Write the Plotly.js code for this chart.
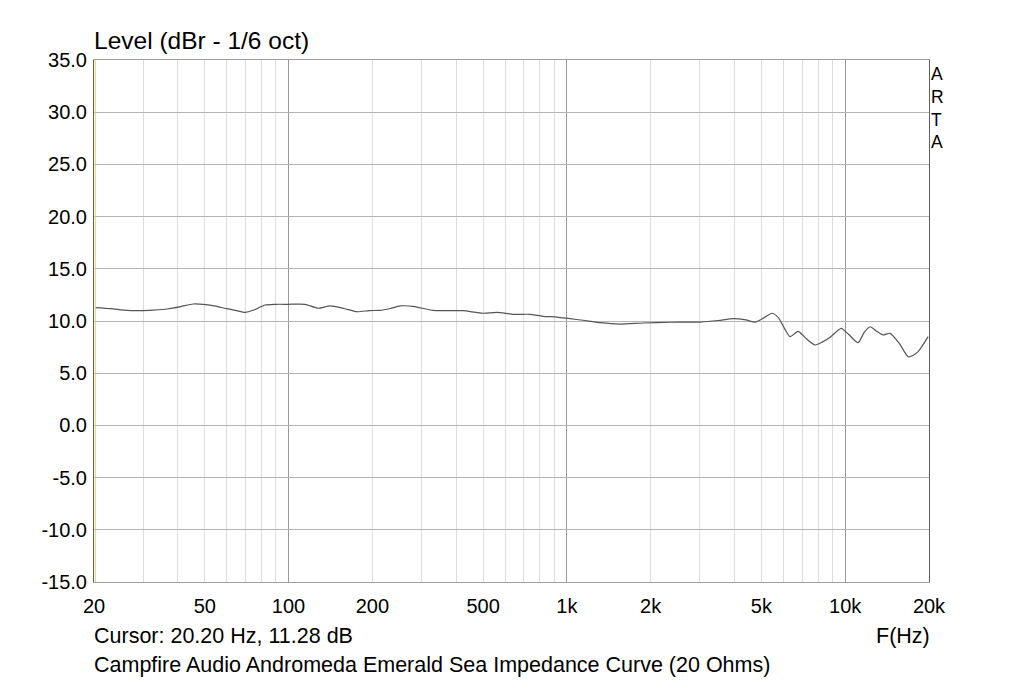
<!DOCTYPE html>
<html>
<head>
<meta charset="utf-8">
<script src="https://cdn.plot.ly/plotly-3.0.1.min.js"></script>
<style>
html,body{margin:0;padding:0;background:#fff;}
#chart{width:1023px;height:681px;}
</style>
</head>
<body>
<div id="chart"></div>
<script>
// Frequency (Hz) and level (dBr)
const freqHz = [20.2, 23, 26.3, 29.5, 32.6, 36.6, 41, 45.4, 49.3, 54, 60.1, 65, 69.8, 75, 82.3, 90, 99.6, 114.6, 127.6, 141, 158, 176, 195, 213, 232, 251.6, 280, 330, 380, 424, 500, 561, 641, 738, 821, 922, 1026, 1143, 1316, 1552, 1878, 2348, 3010, 3500, 3954, 4400, 4743, 5100, 5460, 5740, 6050, 6336, 6772, 7250, 7798, 8300, 8830, 9670, 10300, 11120, 11700, 12280, 13000, 13680, 14490, 15600, 16820, 17500, 18280, 19860];
const levelDb = [11.28, 11.18, 11.02, 11.0, 11.05, 11.15, 11.38, 11.63, 11.6, 11.45, 11.18, 11.0, 10.83, 11.05, 11.53, 11.6, 11.6, 11.6, 11.22, 11.44, 11.2, 10.89, 11.0, 11.02, 11.2, 11.44, 11.41, 11.02, 11.0, 10.99, 10.74, 10.83, 10.64, 10.64, 10.45, 10.38, 10.22, 10.07, 9.84, 9.71, 9.81, 9.88, 9.9, 10.05, 10.22, 10.1, 9.9, 10.3, 10.74, 10.35, 9.3, 8.5, 9.01, 8.3, 7.7, 8.0, 8.44, 9.3, 8.7, 7.92, 8.9, 9.45, 9.0, 8.66, 8.82, 7.9, 6.58, 6.7, 7.06, 8.5];

const labelVals = [20, 50, 100, 200, 500, 1000, 2000, 5000, 10000, 20000];
const labelText = ["20", "50", "100", "200", "500", "1k", "2k", "5k", "10k", "20k"];
const decadeVals = [100, 1000, 10000];
const minorVals = [30, 40, 50, 60, 70, 80, 90, 200, 300, 400, 500, 600, 700, 800, 900, 2000, 3000, 4000, 5000, 6000, 7000, 8000, 9000];
const yTickVals = [-15, -10, -5, 0, 5, 10, 15, 20, 25, 30, 35];
const yTickText = ["-15.0", "-10.0", "-5.0", "0.0", "5.0", "10.0", "15.0", "20.0", "25.0", "30.0", "35.0"];

const xr = [Math.log10(20), Math.log10(20000)];
const fontFam = "Liberation Sans, Arial, sans-serif";

const traces = [
  {x: freqHz, y: levelDb, type: 'scatter', mode: 'lines', line: {color: '#555555', width: 1.2, shape: 'spline', smoothing: 0.6}, xaxis: 'x', yaxis: 'y', hoverinfo: 'skip'},
  {x: freqHz, y: levelDb, type: 'scatter', mode: 'lines', line: {color: 'rgba(0,0,0,0)', width: 0}, xaxis: 'x2', yaxis: 'y', hoverinfo: 'skip'}
];

const layout = {
  width: 1023, height: 681,
  margin: {l: 94, r: 94, t: 60, b: 99},
  paper_bgcolor: '#ffffff', plot_bgcolor: '#ffffff',
  showlegend: false,
  font: {family: fontFam, size: 20, color: '#000'},
  xaxis: {
    type: 'log', range: xr,
    tickmode: 'array', tickvals: decadeVals, showticklabels: false,
    showgrid: true, gridcolor: '#9a9a9a', gridwidth: 1,
    ticks: '', zeroline: false,
    showline: true, linecolor: '#a0a0a0', linewidth: 1, mirror: true,
    minor: {tickmode: 'array', tickvals: minorVals, showgrid: true, gridcolor: '#dcdcdc', gridwidth: 1, ticks: ''}
  },
  xaxis2: {
    type: 'log', range: xr, overlaying: 'x', side: 'bottom',
    tickmode: 'array', tickvals: labelVals, ticktext: labelText,
    showgrid: false, ticks: '', zeroline: false, showline: false,
    ticklabelstandoff: 10,
    tickfont: {family: fontFam, size: 20, color: '#000'}
  },
  yaxis: {
    range: [-15, 35],
    tickmode: 'array', tickvals: yTickVals, ticktext: yTickText,
    showgrid: true, gridcolor: '#b4b4b4', gridwidth: 1,
    ticks: '', zeroline: false,
    showline: true, linecolor: '#606060', linewidth: 1, mirror: true,
    ticklabelstandoff: 2,
    tickfont: {family: fontFam, size: 20, color: '#000'}
  },
  shapes: [
    {type: 'line', xref: 'paper', yref: 'paper', x0: 0.0015, x1: 0.0015, y0: 0, y1: 1, line: {color: '#e0d84a', width: 1}}
  ],
  annotations: [
    {text: 'Level (dBr - 1/6 oct)', xref: 'paper', yref: 'paper', x: 0, y: 1, xanchor: 'left', yanchor: 'bottom', xshift: -2, yshift: 4, showarrow: false, font: {family: fontFam, size: 24.5, color: '#000'}},
    {text: 'A<br>R<br>T<br>A', xref: 'paper', yref: 'paper', x: 1, y: 1, xanchor: 'left', yanchor: 'top', xshift: 0, yshift: -2, showarrow: false, align: 'left', font: {family: fontFam, size: 17.5, color: '#000'}},
    {text: 'Cursor: 20.20 Hz, 11.28 dB', xref: 'paper', yref: 'paper', x: 0, y: 0, xanchor: 'left', yanchor: 'top', xshift: -2, yshift: -40, showarrow: false, font: {family: fontFam, size: 21.5, color: '#000'}},
    {text: 'F(Hz)', xref: 'paper', yref: 'paper', x: 1, y: 0, xanchor: 'right', yanchor: 'top', xshift: 3, yshift: -40, showarrow: false, font: {family: fontFam, size: 21.5, color: '#000'}},
    {text: 'Campfire Audio Andromeda Emerald Sea Impedance Curve (20 Ohms)', xref: 'paper', yref: 'paper', x: 0, y: 0, xanchor: 'left', yanchor: 'top', xshift: -2, yshift: -69, showarrow: false, font: {family: fontFam, size: 21.5, color: '#000'}}
  ]
};

Plotly.newPlot('chart', traces, layout, {staticPlot: true, displayModeBar: false});
</script>
</body>
</html>
